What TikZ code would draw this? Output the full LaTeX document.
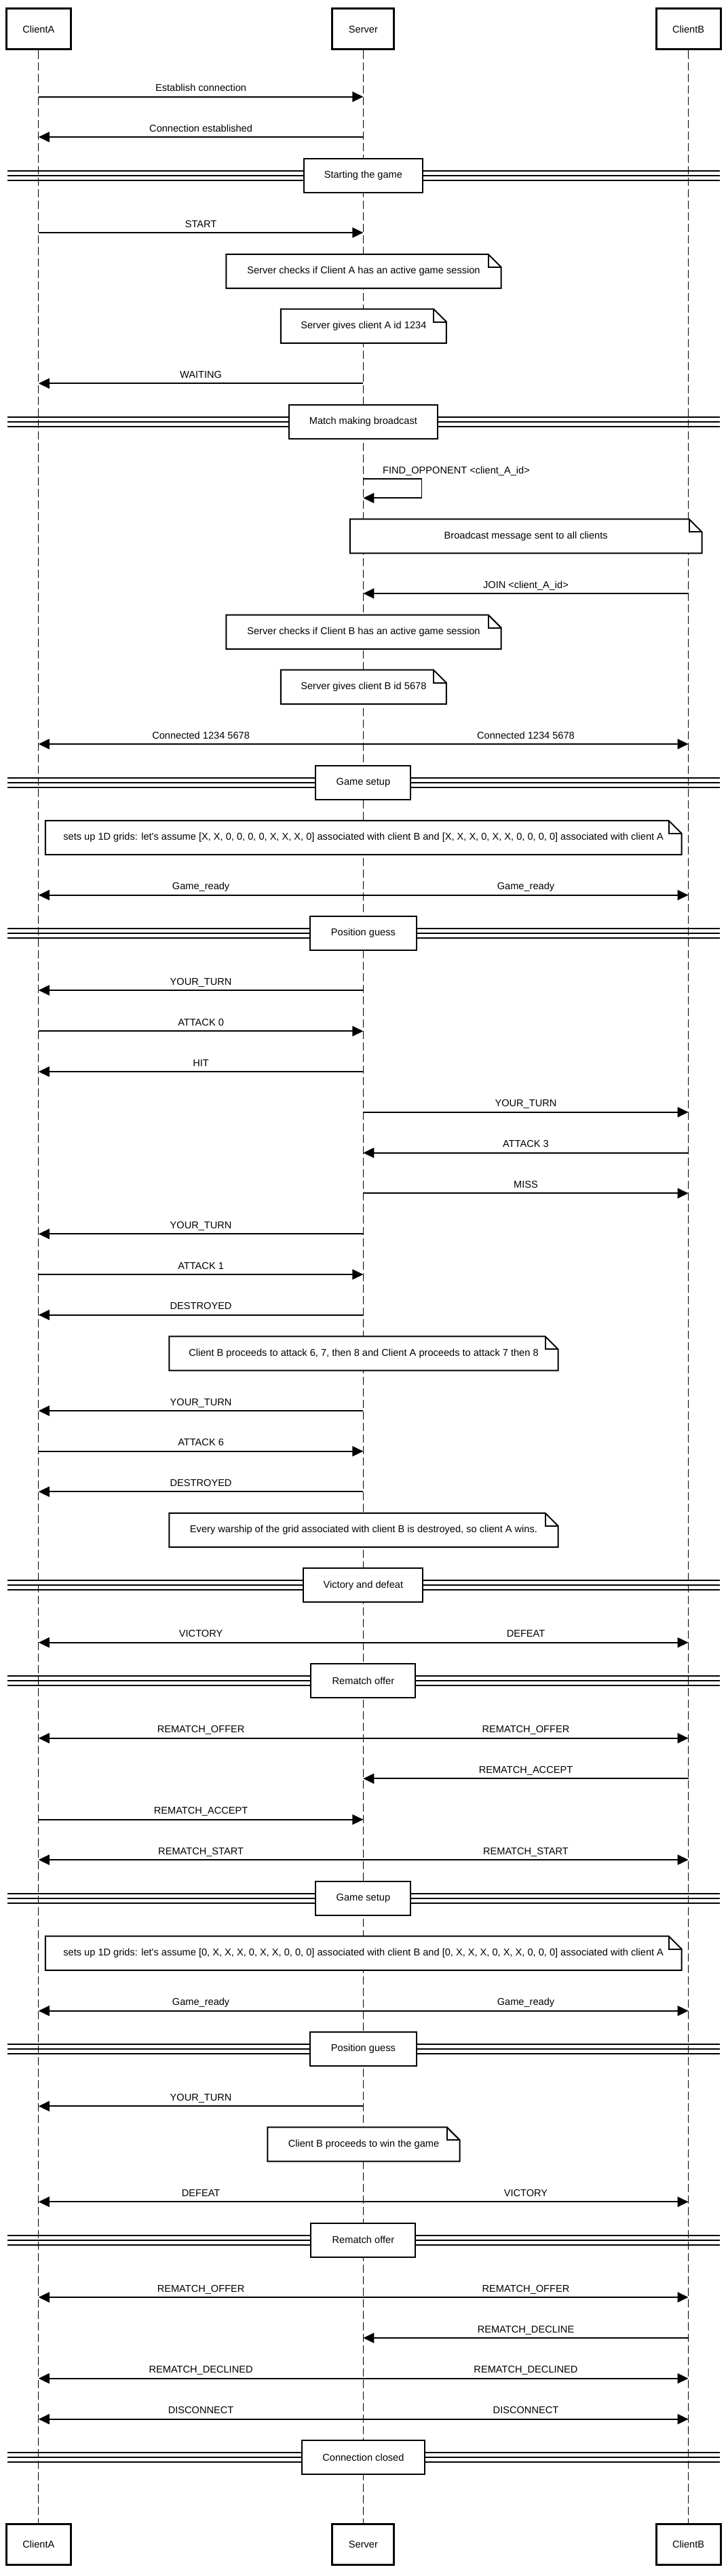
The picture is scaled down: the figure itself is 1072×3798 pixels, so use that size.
\documentclass[tikz,border=0pt]{standalone}
\usepackage{fontspec}
\newfontfamily\diafont{Liberation Sans}[Ligatures=TeXOff]
\usetikzlibrary{arrows.meta,calc}
\newcommand\dfs{\diafont\fontsize{14.6pt}{17pt}\selectfont}
\def\xA{56.8}
\def\xS{535.4}
\def\xB{1014.6}
\tikzset{
  x=1pt, y=-1pt,
  lifeline/.style={line width=1.3pt, dash pattern=on 12pt off 5pt},
  partbox/.style={draw, line width=3pt, fill=white, minimum height=60pt, inner sep=0pt, font=\dfs},
  msgline/.style={line width=1.8pt, -{Triangle[length=16pt,width=15pt]}},
  msglbl/.style={anchor=base, yshift=8pt, inner sep=0pt, font=\dfs},
  divline/.style={line width=2pt},
  divbox/.style={draw, line width=2pt, fill=white, minimum height=50pt, inner sep=0pt, font=\dfs},
  noteline/.style={line width=2pt, line join=miter},
  notetext/.style={inner sep=0pt, font=\dfs},
}
\newcommand\msgto[5]{%
  \coordinate (#1s) at (#2,#4);
  \coordinate (#1e) at (#3,#4);
  \draw[msgline] (#1s) -- node[msglbl] (#1l) {#5} (#1e);
}
\newcommand\msgboth[4]{%
  \coordinate (#1s) at (\xS,#2);
  \coordinate (#1a) at (\xA,#2);
  \coordinate (#1b) at (\xB,#2);
  \draw[msgline] (#1s) -- node[msglbl] (#1la) {#3} (#1a);
  \draw[msgline] (#1s) -- node[msglbl] (#1lb) {#4} (#1b);
}
\newcommand\divider[4]{%
  \coordinate (#1w) at (11,#2);
  \coordinate (#1e) at (1061,#2);
  \draw[divline] ([yshift=7pt]#1w) -- ([yshift=7pt]#1e);
  \draw[divline] (#1w) -- (#1e);
  \draw[divline] ([yshift=-7pt]#1w) -- ([yshift=-7pt]#1e);
  \node[divbox, minimum width=#3pt] (#1) at (\xS,#2) {#4};
}
\newcommand\notebox[5]{%
  \path node[minimum width=#4pt, minimum height=50pt, inner sep=0pt] (#1) at (#2,#3) {};
  \filldraw[noteline, fill=white] (#1.north west) -- ([xshift=-19pt]#1.north east) -- ([yshift=-19pt]#1.north east) -- (#1.south east) -- (#1.south west) -- cycle;
  \draw[noteline] ([xshift=-19pt]#1.north east) |- ([yshift=-19pt]#1.north east);
  \node[notetext] (#1t) at (#1.center) {#5};
}
\begin{document}
\begin{tikzpicture}
\fill[white] (0,0) rectangle (1072,3798);
\useasboundingbox (0,0) rectangle (1072,3798);
% participants
\node[partbox, minimum width=95pt] (A) at (\xA,43) {ClientA};
\node[partbox, minimum width=91pt] (S) at (\xS,43) {Server};
\node[partbox, minimum width=95pt] (B) at (\xB,43) {ClientB};
\node[partbox, minimum width=95pt] (Ab) at (\xA,3751.4) {ClientA};
\node[partbox, minimum width=91pt] (Sb) at (\xS,3751.4) {Server};
\node[partbox, minimum width=95pt] (Bb) at (\xB,3751.4) {ClientB};
\draw[lifeline] (A.south) -- (Ab.north);
\draw[lifeline] (S.south) -- (Sb.north);
\draw[lifeline] (B.south) -- (Bb.north);
% sequence
\msgto{est}{\xA}{\xS}{142.7}{Establish connection}
\msgto{cest}{\xS}{\xA}{202}{Connection established}
\divider{d1}{258.7}{175}{Starting the game}
\msgto{start}{\xA}{\xS}{343}{START}
\notebox{n1}{536}{400}{404.8}{Server checks if Client A has an active game session}
\notebox{n2}{535.9}{480.7}{243.7}{Server gives client A id 1234}
\msgto{wait}{\xS}{\xA}{565.3}{WAITING}
\divider{d2}{621.7}{219}{Match making broadcast}
\coordinate (fos) at (\xS,706);
\coordinate (foc1) at (621.5,706);
\coordinate (foc2) at (621.5,734.3);
\coordinate (foe) at (\xS,734.3);
\draw[msgline] (fos) -- (foc1) -- (foc2) -- (foe);
\node[msglbl, anchor=base west] (fol) at (564,706) {FIND\_OPPONENT <client\_A\_id>};
\notebox{n3}{775.2}{790.5}{518.4}{Broadcast message sent to all clients}
\msgto{join}{\xB}{\xS}{875}{JOIN <client\_A\_id>}
\notebox{n4}{536}{931.7}{404.8}{Server checks if Client B has an active game session}
\notebox{n5}{535.9}{1012.9}{243.7}{Server gives client B id 5678}
\msgboth{conn}{1097}{Connected 1234 5678}{Connected 1234 5678}
\divider{d3}{1153.7}{140}{Game setup}
\notebox{n6}{535.7}{1235}{937.3}{sets up 1D grids: let's assume [X, X, 0, 0, 0, 0, X, X, X, 0] associated with client B and [X, X, X, 0, X, X, 0, 0, 0, 0] associated with client A}
\msgboth{gr1}{1319.7}{Game\_ready}{Game\_ready}
\divider{d4}{1376}{157}{Position guess}
\msgto{yt1}{\xS}{\xA}{1460}{YOUR\_TURN}
\msgto{att0}{\xA}{\xS}{1520.3}{ATTACK 0}
\msgto{hit}{\xS}{\xA}{1580}{HIT}
\msgto{yt2}{\xS}{\xB}{1639.7}{YOUR\_TURN}
\msgto{att3}{\xB}{\xS}{1699.7}{ATTACK 3}
\msgto{miss}{\xS}{\xB}{1759.3}{MISS}
\msgto{yt3}{\xS}{\xA}{1819.3}{YOUR\_TURN}
\msgto{att1}{\xA}{\xS}{1879}{ATTACK 1}
\msgto{des1}{\xS}{\xA}{1938.7}{DESTROYED}
\notebox{n7}{536}{1995.5}{572.9}{Client B proceeds to attack 6, 7, then 8 and Client A proceeds to attack 7 then 8}
\msgto{yt4}{\xS}{\xA}{2080}{YOUR\_TURN}
\msgto{att6}{\xA}{\xS}{2139.7}{ATTACK 6}
\msgto{des2}{\xS}{\xA}{2199.3}{DESTROYED}
\notebox{n8}{536}{2256}{572.9}{Every warship of the grid associated with client B is destroyed, so client A wins.}
\divider{d5}{2337.3}{176}{Victory and defeat}
\msgboth{vd}{2421.7}{VICTORY}{DEFEAT}
\divider{d6}{2478}{154}{Rematch offer}
\msgboth{ro1}{2562.7}{REMATCH\_OFFER}{REMATCH\_OFFER}
\msgto{ra1}{\xB}{\xS}{2622.3}{REMATCH\_ACCEPT}
\msgto{ra2}{\xA}{\xS}{2682.7}{REMATCH\_ACCEPT}
\msgboth{rs}{2742}{REMATCH\_START}{REMATCH\_START}
\divider{d7}{2798.7}{140}{Game setup}
\notebox{n9}{535.7}{2879.7}{937.3}{sets up 1D grids: let's assume [0, X, X, X, 0, X, X, 0, 0, 0] associated with client B and [0, X, X, X, 0, X, X, 0, 0, 0] associated with client A}
\msgboth{gr2}{2964.7}{Game\_ready}{Game\_ready}
\divider{d8}{3021}{157}{Position guess}
\msgto{yt5}{\xS}{\xA}{3105.3}{YOUR\_TURN}
\notebox{n10}{536}{3161.5}{283}{Client B proceeds to win the game}
\msgboth{dv}{3246.3}{DEFEAT}{VICTORY}
\divider{d9}{3302.7}{154}{Rematch offer}
\msgboth{ro2}{3387}{REMATCH\_OFFER}{REMATCH\_OFFER}
\msgto{rdec}{\xB}{\xS}{3447}{REMATCH\_DECLINE}
\msgboth{rdd}{3506.7}{REMATCH\_DECLINED}{REMATCH\_DECLINED}
\msgboth{disc}{3566.7}{DISCONNECT}{DISCONNECT}
\divider{d10}{3623}{181}{Connection closed}
\end{tikzpicture}
\end{document}
